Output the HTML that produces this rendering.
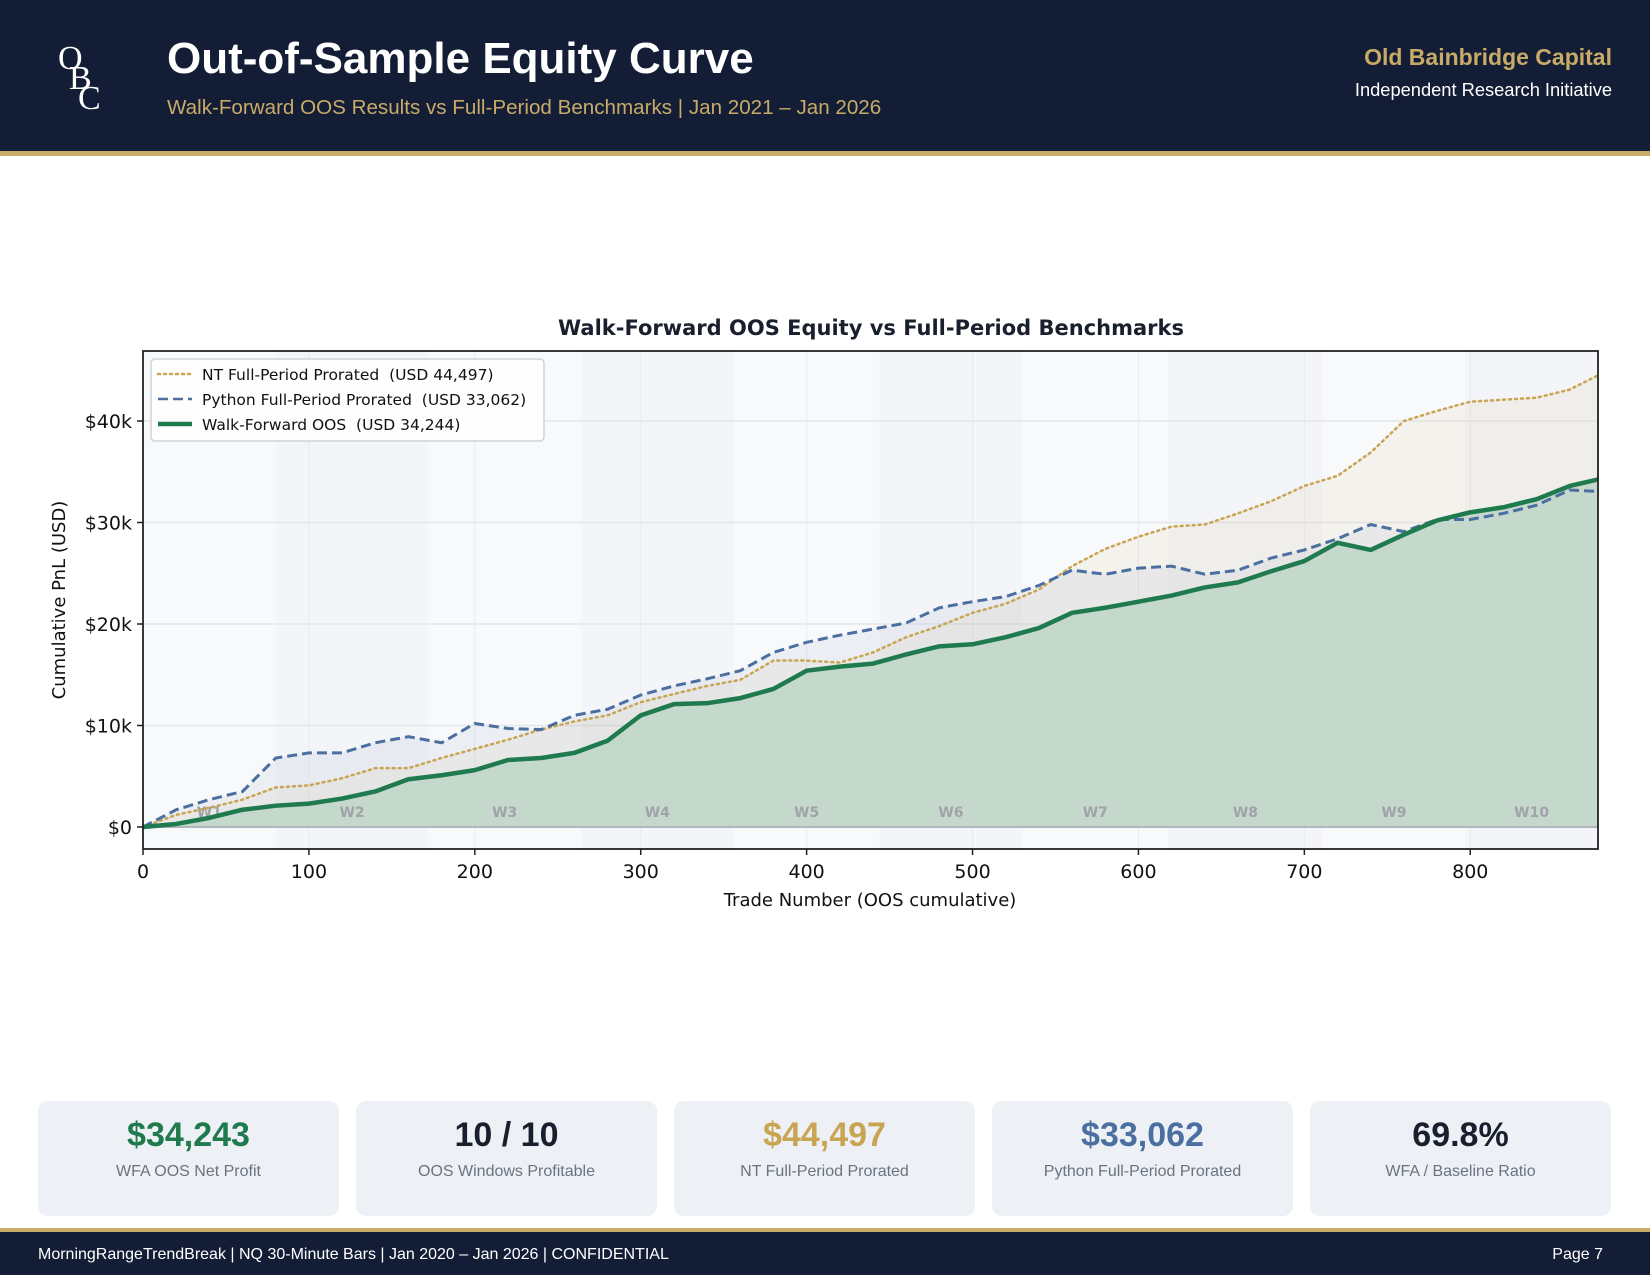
<!DOCTYPE html>
<html><head><meta charset="utf-8"><style>
body{margin:0;width:1650px;height:1275px;background:#fff;position:relative;overflow:hidden;font-family:"Liberation Sans",Arial,sans-serif}
.hdr{position:absolute;left:0;top:0;width:1650px;height:151px;background:#131d36}
.gold{position:absolute;left:0;top:151px;width:1650px;height:5px;background:#c9ab68}
.ftr{position:absolute;left:0;top:1228px;width:1650px;height:47px;background:#131d36;border-top:4px solid #c9ab68;box-sizing:border-box}
.card{position:absolute;top:1101px;width:301px;height:115px;background:#edf1f6;border-radius:10px;text-align:center}
.card .v{position:absolute;left:0;right:0;top:15px;font-size:34px;font-weight:bold}
.card .l{position:absolute;left:0;right:0;top:62px;font-size:16px;color:#6b7280}
</style></head><body>
<div class="hdr">
 <div style="position:absolute;left:56px;top:42px;width:60px;height:80px;font-family:'Liberation Serif',serif;color:#fff;font-size:34px;line-height:1">
  <span style="position:absolute;left:2px;top:0">O</span><span style="position:absolute;left:13px;top:20px">B</span><span style="position:absolute;left:22px;top:40px">C</span></div>
 <div style="position:absolute;left:167px;top:34px;font-size:44px;font-weight:bold;color:#fff">Out-of-Sample Equity Curve</div>
 <div style="position:absolute;left:167px;top:96px;font-size:20.6px;color:#c9ab68">Walk-Forward OOS Results vs Full-Period Benchmarks | Jan 2021 – Jan 2026</div>
 <div style="position:absolute;right:38px;top:44px;font-size:23px;font-weight:bold;color:#c9ab68">Old Bainbridge Capital</div>
 <div style="position:absolute;right:38px;top:79px;font-size:18.3px;color:#fff">Independent Research Initiative</div>
</div>
<div class="gold"></div>

<svg id="chart" width="1650" height="960" style="position:absolute;left:0;top:0" font-family="DejaVu Sans, sans-serif"></svg>

<div class="card" style="left:38px"><div class="v" style="color:#1f7a4d">$34,243</div><div class="l">WFA OOS Net Profit</div></div>
<div class="card" style="left:356px"><div class="v" style="color:#1a1f2e">10 / 10</div><div class="l">OOS Windows Profitable</div></div>
<div class="card" style="left:674px"><div class="v" style="color:#c9a452">$44,497</div><div class="l">NT Full-Period Prorated</div></div>
<div class="card" style="left:992px"><div class="v" style="color:#4a6fa0">$33,062</div><div class="l">Python Full-Period Prorated</div></div>
<div class="card" style="left:1310px"><div class="v" style="color:#1a1f2e">69.8%</div><div class="l">WFA / Baseline Ratio</div></div>

<div class="ftr">
 <div style="position:absolute;left:38px;top:14px;font-size:16px;color:#fff">MorningRangeTrendBreak | NQ 30-Minute Bars | Jan 2020 – Jan 2026 | CONFIDENTIAL</div>
 <div style="position:absolute;right:47px;top:14px;font-size:16px;color:#fff">Page 7</div>
</div>

<script>
const trades=[0,20,40,60,80,100,120,140,160,180,200,220,240,260,280,300,320,340,360,380,400,420,440,460,480,500,520,540,560,580,600,620,640,660,680,700,720,740,760,780,800,820,840,860,877];
const oosVals=[0,0.3,0.9,1.7,2.1,2.3,2.8,3.5,4.7,5.1,5.6,6.6,6.8,7.3,8.5,11,12.1,12.2,12.7,13.6,15.4,15.8,16.1,17,17.8,18,18.7,19.6,21.1,21.6,22.2,22.8,23.6,24.1,25.2,26.2,28,27.3,28.8,30.2,31,31.5,32.3,33.6,34.24];
const pyVals=[0,1.7,2.7,3.5,6.8,7.3,7.3,8.3,8.9,8.3,10.2,9.7,9.6,11,11.6,13,13.9,14.6,15.4,17.2,18.2,18.9,19.5,20.1,21.6,22.2,22.7,23.8,25.3,24.9,25.5,25.7,24.9,25.3,26.5,27.3,28.4,29.8,29.1,30.3,30.3,30.9,31.7,33.2,33.06];
const ntVals=[0,1.2,1.9,2.7,3.9,4.1,4.8,5.8,5.8,6.8,7.7,8.6,9.6,10.4,11,12.3,13.1,13.9,14.5,16.4,16.4,16.2,17.2,18.7,19.8,21.1,22,23.4,25.7,27.4,28.6,29.6,29.8,30.9,32.1,33.6,34.6,36.9,40,41,41.9,42.1,42.3,43.1,44.5];
const yTicks=[0,10,20,30,40];
const yTickLabels=['$0','$10k','$20k','$30k','$40k'];
const xTicks=[0,100,200,300,400,500,600,700,800];
const winBounds=[0,80,172,264,356,444,530,618,711,797,877];
const winLabels=['W1','W2','W3','W4','W5','W6','W7','W8','W9','W10'];

const L=143,R=1598,T=351,B=849;
const X=t=>L+(t/877)*(R-L);
const Y=v=>827-v*10.15;
const svg=document.getElementById('chart');
const NS='http://www.w3.org/2000/svg';
function mk(tag,a,p){const e=document.createElementNS(NS,tag);for(const k in a)e.setAttribute(k,a[k]);(p||svg).appendChild(e);return e;}

let e=mk('rect',{x:L,y:T,width:R-L,height:B-T,fill:'#f8f9fb'});

winBounds.slice(0,-1).forEach((b,i)=>{if(i%2===1){const r=mk('rect',{x:X(b),y:T,width:X(winBounds[i+1])-X(b),height:B-T,fill:'#eef1f6',opacity:0.4});
}});
yTicks.forEach(v=>{const g=mk('line',{x1:L,x2:R,y1:Y(v),y2:Y(v),stroke:'#e4e6ea','stroke-width':1.5});
});
xTicks.forEach(t=>{const g=mk('line',{x1:X(t),x2:X(t),y1:T,y2:B,stroke:'#e8eaee','stroke-width':1});
});

const pts=a=>trades.map((t,i)=>X(t)+','+Y(a[i])).join(' ');
const band=(top,bot)=>trades.map((t,i)=>X(t)+','+Y(top[i])).join(' ')+' '+trades.slice().reverse().map((t,j)=>{const i=trades.length-1-j;return X(t)+','+Y(bot[i]);}).join(' ');
const zeros=trades.map(()=>0);
e=mk('polygon',{points:band(ntVals,oosVals),fill:'#c9a452',opacity:0.08});

e=mk('polygon',{points:band(pyVals,oosVals),fill:'#4a6fa0',opacity:0.07});

e=mk('polygon',{points:band(oosVals,zeros),fill:'#c5d8cc'});

e=mk('line',{x1:L,x2:R,y1:Y(0),y2:Y(0),stroke:'#b0b6bc','stroke-width':2});


winLabels.forEach((w,i)=>{const t=mk('text',{x:X((winBounds[i]+winBounds[i+1])/2),y:817,'text-anchor':'middle','font-size':14,'font-weight':'bold',fill:'#a0a3a8'});t.textContent=w;
});

e=mk('polyline',{points:pts(ntVals),fill:'none',stroke:'#c9a452','stroke-width':2.5,'stroke-dasharray':'2 4','stroke-linecap':'round'});

e=mk('polyline',{points:pts(pyVals),fill:'none',stroke:'#4a6fa0','stroke-width':3,'stroke-dasharray':'10 5'});

e=mk('polyline',{points:pts(oosVals),fill:'none',stroke:'#1f7a4d','stroke-width':4.5,'stroke-linejoin':'round'});


e=mk('rect',{x:L,y:T,width:R-L,height:B-T,fill:'none',stroke:'#222','stroke-width':1.8});

yTicks.forEach((v,i)=>{mk('line',{x1:L-6,x2:L,y1:Y(v),y2:Y(v),stroke:'#222','stroke-width':1.5});
const t=mk('text',{x:L-11,y:Y(v)+7,'text-anchor':'end','font-size':19,fill:'#111'});t.textContent=yTickLabels[i];
});
xTicks.forEach(v=>{mk('line',{x1:X(v),x2:X(v),y1:B,y2:B+6,stroke:'#222','stroke-width':1.5});
const t=mk('text',{x:X(v),y:B+29,'text-anchor':'middle','font-size':19,fill:'#111'});t.textContent=v;
});

e=mk('text',{x:871,y:335,'text-anchor':'middle','font-size':21,'font-weight':'bold',fill:'#1a1f2e'});e.textContent='Walk-Forward OOS Equity vs Full-Period Benchmarks';

e=mk('text',{x:870,y:906,'text-anchor':'middle','font-size':18,fill:'#111'});e.textContent='Trade Number (OOS cumulative)';

e=mk('text',{x:0,y:0,'text-anchor':'middle','font-size':18,fill:'#111',transform:'translate(65,600) rotate(-90)'});e.textContent='Cumulative PnL (USD)';


const lg=mk('g',{});

mk('rect',{x:151,y:359,width:393,height:82,rx:4,fill:'#fff','fill-opacity':0.85,stroke:'#d0d2d6','stroke-width':1.5},lg);
const leg=[['NT Full-Period Prorated\u00a0\u00a0(USD 44,497)','#c9a452',2.5,'2 4'],['Python Full-Period Prorated\u00a0\u00a0(USD 33,062)','#4a6fa0',2.5,'10 5'],['Walk-Forward OOS\u00a0\u00a0(USD 34,244)','#1f7a4d',4.5,'']];
leg.forEach((l,i)=>{const y=374+i*25;
const ln=mk('line',{x1:158,x2:192,y1:y,y2:y,stroke:l[1],'stroke-width':l[2],'stroke-dasharray':l[3],'stroke-linecap':i===0?'round':'butt'},lg);
const t=mk('text',{x:202,y:y+6,'font-size':15.5,fill:'#111'},lg);t.textContent=l[0];
});
</script>
</body></html>
